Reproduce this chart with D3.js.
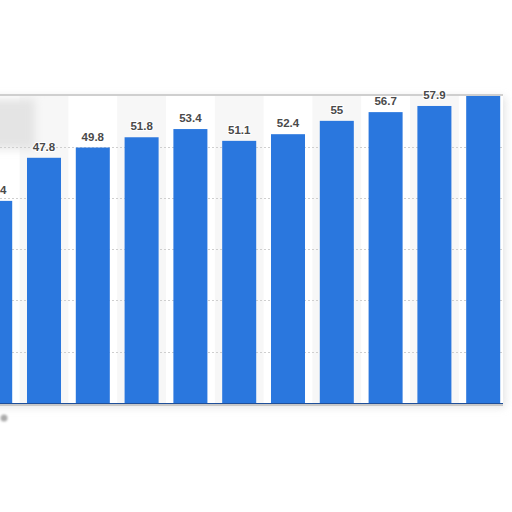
<!DOCTYPE html>
<html>
<head>
<meta charset="utf-8">
<script src="https://cdn.jsdelivr.net/npm/d3@7"></script>
<style>
  html, body { margin: 0; padding: 0; background: #fff; }
  svg { display: block; }
</style>
</head>
<body>
<svg id="vis" width="512" height="512"></svg>
<script>
// data (year labels are cropped out of the reference)
const years = ['2011', '2012', '2013', '2014', '2015', '2016', '2017', '2018', '2019', '2020', '2021'];
const values = [39.4, 47.8, 49.8, 51.8, 53.4, 51.1, 52.4, 55, 56.7, 57.9, 60.3];
const gridTicks = [10, 20, 30, 40, 50];

const width = 512;
const height = 512;
const plot = {top: 95, bottom: 403, left: -30, right: 503};

const svg = d3.select('#vis');
const defs = svg.append('defs');
defs.append('clipPath').attr('id', 'plotClip')
  .append('rect').attr('x', 0).attr('y', plot.top).attr('width', plot.right).attr('height', plot.bottom - plot.top);
defs.append('clipPath').attr('id', 'labelClip')
  .append('rect').attr('x', 0).attr('y', 89).attr('width', plot.right).attr('height', plot.bottom - 89);
defs.append('filter').attr('id', 'blur')
  .attr('x', '-50%').attr('y', '-50%').attr('width', '200%').attr('height', '200%')
  .append('feGaussianBlur').attr('stdDeviation', 4);
defs.append('filter').attr('id', 'blurSmall')
  .attr('x', '-100%').attr('y', '-100%').attr('width', '300%').attr('height', '300%')
  .append('feGaussianBlur').attr('stdDeviation', 1.2);

const x = d3.scaleBand().domain(years).range([-29.2, 507.6]).paddingInner(0.303).paddingOuter(0.1515);
const y = d3.scaleLinear().domain([0, 60]).range([plot.bottom, plot.bottom - 5.13 * 60]);

// panel shadow + background
svg.append('rect').attr('x', -10).attr('y', plot.top + 2).attr('width', plot.right + 12).attr('height', plot.bottom - plot.top + 2)
  .attr('fill', '#d8d8d8').attr('filter', 'url(#blur)').attr('opacity', 0.7);
svg.append('rect').attr('x', -10).attr('y', plot.top).attr('width', plot.right + 10).attr('height', plot.bottom - plot.top)
  .attr('fill', '#fff');

const g = svg.append('g').attr('clip-path', 'url(#plotClip)');

// zebra columns
g.selectAll('rect.band').data(years.filter((d, i) => i % 2 === 1)).enter().append('rect')
  .attr('class', 'band')
  .attr('x', d => x(d) - x.step() * x.paddingInner() / 2)
  .attr('y', plot.top)
  .attr('width', x.step())
  .attr('height', plot.bottom - plot.top)
  .attr('fill', '#f7f7f7');

// faint blurred overlay at top left
g.append('rect').attr('x', -20).attr('y', plot.top + 4).attr('width', 55).attr('height', 50)
  .attr('fill', '#e4e4e4').attr('filter', 'url(#blur)');

// gridlines
g.selectAll('line.grid').data(gridTicks).enter().append('line')
  .attr('class', 'grid')
  .attr('x1', 0).attr('x2', plot.right)
  .attr('y1', d => Math.round(y(d)) + 0.5).attr('y2', d => Math.round(y(d)) + 0.5)
  .attr('stroke', '#cfcfcf').attr('stroke-width', 1).attr('stroke-dasharray', '2,2');

// bars
g.selectAll('rect.bar').data(values).enter().append('rect')
  .attr('class', 'bar')
  .attr('x', (d, i) => x(years[i]))
  .attr('y', d => y(d))
  .attr('width', x.bandwidth())
  .attr('height', d => y(0) - y(d))
  .attr('fill', '#2a77de');

// panel frame lines
svg.append('line').attr('x1', 0).attr('x2', plot.right).attr('y1', plot.top).attr('y2', plot.top)
  .attr('stroke', '#cfcfcf').attr('stroke-width', 2);
svg.append('line').attr('x1', 0).attr('x2', plot.right).attr('y1', plot.bottom + 0.5).attr('y2', plot.bottom + 0.5)
  .attr('stroke', '#1f4f99').attr('stroke-width', 1);
svg.append('line').attr('x1', 0).attr('x2', plot.right).attr('y1', plot.bottom + 2).attr('y2', plot.bottom + 2)
  .attr('stroke', '#c8c8c8').attr('stroke-width', 2);

// value labels (drawn over the top frame line)
svg.append('g').attr('clip-path', 'url(#labelClip)')
  .selectAll('text.label').data(values).enter().append('text')
  .attr('class', 'label')
  .attr('x', (d, i) => x(years[i]) + x.bandwidth() / 2)
  .attr('y', d => y(d) - 7)
  .attr('text-anchor', 'middle')
  .attr('font-family', 'Liberation Sans, Arial, sans-serif')
  .attr('font-size', 11.5)
  .attr('font-weight', 'bold')
  .attr('fill', '#4a4a4a')
  .attr('stroke', '#fff').attr('stroke-width', 2).attr('paint-order', 'stroke')
  .text(d => d);

// small grey dot under the axis
svg.append('circle').attr('cx', 4).attr('cy', 418).attr('r', 3.5).attr('fill', '#aaaaaa').attr('filter', 'url(#blurSmall)');
</script>
</body>
</html>
